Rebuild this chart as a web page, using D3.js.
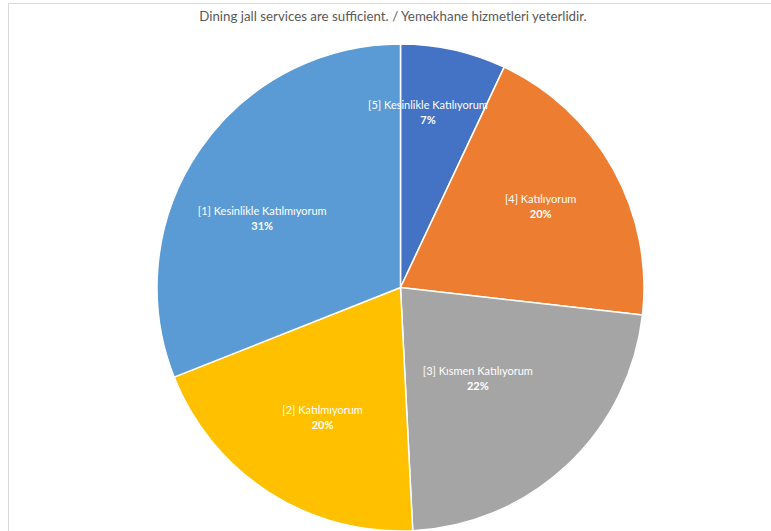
<!DOCTYPE html>
<html><head><meta charset="utf-8">
<script src="https://cdn.jsdelivr.net/npm/d3@7"></script>
<style>html,body{margin:0;padding:0;background:#fff;}</style>
</head><body>
<script>
const title = "Dining jall services are sufficient. / Yemekhane hizmetleri yeterlidir.";
const categories = ["[5] Kesinlikle Katılıyorum", "[4] Katılıyorum", "[3] Kısmen Katılıyorum", "[2] Katılmıyorum", "[1] Kesinlikle Katılmıyorum"];
const values = [7.0, 19.8, 22.4, 19.8, 31.0];
const percentLabels = ["7%", "20%", "22%", "20%", "31%"];
const colors = ["#4472C4", "#ED7D31", "#A5A5A5", "#FFC000", "#5B9BD5"];

// layout: label placement (radius fraction, angle shift in degrees) per slice
const labelLayout = [[0.73, -3.7], [0.665, -0.9], [0.49, 2.8], [0.62, -1.7], [0.635, -7.6]];

const W = 771, H = 531;
const cx = 400.5, cy = 287.5, R = 243.5;

const svg = d3.select("body").append("svg").attr("width", W).attr("height", H);
svg.append("rect").attr("width", W).attr("height", H).attr("fill", "#fff");
// chart border
svg.append("path").attr("d", `M8.5,${H} V3.5 H${W}`).attr("fill", "none").attr("stroke", "#d9d9d9").attr("stroke-width", 1);

svg.append("text").attr("x", 393).attr("y", 21).attr("text-anchor", "middle")
  .attr("font-family", "Lato, 'Open Sans', sans-serif").attr("font-size", 13.3).attr("fill", "#595959")
  .text(title);

const pie = d3.pie().sort(null).value(d => d)(values);
const arc = d3.arc().innerRadius(0).outerRadius(R);
const g = svg.append("g").attr("transform", `translate(${cx},${cy})`);
g.selectAll("path").data(pie).join("path")
  .attr("d", arc).attr("fill", (d, i) => colors[i])
  .attr("stroke", "#fff").attr("stroke-width", 1.5).attr("stroke-linejoin", "round");

const labels = g.selectAll("g.lbl").data(pie).join("g").attr("class", "lbl")
  .attr("transform", (d, i) => {
    const a = (d.startAngle + d.endAngle) / 2 + labelLayout[i][1] * Math.PI / 180;
    const r = R * labelLayout[i][0];
    return `translate(${r * Math.sin(a)},${-r * Math.cos(a)})`;
  });
labels.append("text").attr("text-anchor", "middle").attr("y", -3)
  .attr("font-family", "Lato, 'Open Sans', sans-serif").attr("font-size", 11).attr("fill", "#fff")
  .text((d, i) => categories[i]);
labels.append("text").attr("text-anchor", "middle").attr("y", 12)
  .attr("font-family", "Lato, 'Open Sans', sans-serif").attr("font-size", 11).attr("font-weight", "bold").attr("fill", "#fff")
  .text((d, i) => percentLabels[i]);
</script>
</body></html>
